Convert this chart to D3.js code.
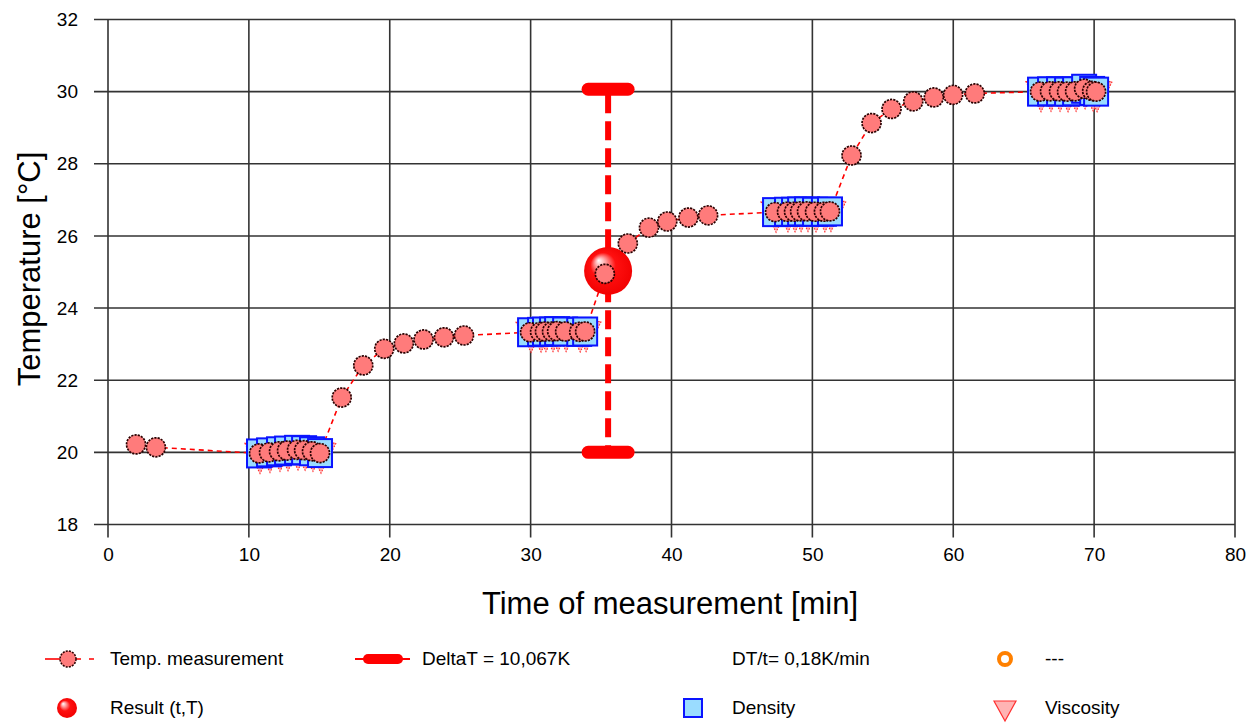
<!DOCTYPE html>
<html>
<head>
<meta charset="utf-8">
<script src="https://cdn.jsdelivr.net/npm/d3@7"></script>
<style>
  html, body { margin: 0; padding: 0; background: #ffffff; }
  svg { display: block; font-family: "Liberation Sans", Arial, sans-serif; }
</style>
</head>
<body>
<svg id="chart" width="1248" height="723"></svg>
<script>
// Temperature measurements (time in min, temperature in °C)
const tempTime = [1.99, 3.4,
  10.72, 11.43, 12.14, 12.71, 13.42, 13.92, 14.48, 15.05,
  16.59, 18.12, 19.61, 21.0, 22.4, 23.85, 25.27,
  29.96, 30.67, 31.02, 31.52, 31.88, 32.45, 33.45, 33.87,
  35.27, 36.9, 38.4, 39.7, 41.2, 42.6,
  47.35, 48.2, 48.7, 49.13, 49.62, 50.19, 50.82, 51.25,
  52.78, 54.2, 55.62, 57.16, 58.62, 59.99, 61.53,
  66.16, 66.87, 67.51, 68.08, 68.65, 69.29, 69.86, 70.14];
const tempValue = [20.22, 20.14,
  19.97, 20.0, 20.03, 20.05, 20.07, 20.06, 20.03, 19.98,
  21.52, 22.41, 22.87, 23.02, 23.13, 23.19, 23.24,
  23.33, 23.34, 23.35, 23.35, 23.36, 23.35, 23.34, 23.35,
  24.95, 25.79, 26.23, 26.40, 26.51, 26.57,
  26.66, 26.67, 26.67, 26.68, 26.68, 26.67, 26.67, 26.68,
  28.23, 29.13, 29.52, 29.73, 29.84, 29.91, 29.95,
  30.0, 30.01, 30.01, 30.0, 30.01, 30.08, 30.02, 30.0];

// Density readings taken at the stable plateaus
const densityTime = [10.72, 11.43, 12.14, 12.71, 13.42, 13.92, 14.48, 15.05,
  29.96, 30.67, 31.02, 31.52, 31.88, 32.45, 33.45, 33.87,
  47.35, 48.2, 48.7, 49.13, 49.62, 50.19, 50.82, 51.25,
  66.16, 66.87, 67.51, 68.08, 68.65, 69.29, 69.86, 70.14];
const densityValue = [19.97, 20.0, 20.03, 20.05, 20.07, 20.06, 20.03, 19.98,
  23.33, 23.34, 23.35, 23.35, 23.36, 23.35, 23.34, 23.35,
  26.66, 26.67, 26.67, 26.68, 26.68, 26.67, 26.67, 26.68,
  30.0, 30.01, 30.01, 30.0, 30.01, 30.08, 30.02, 30.0];

// Viscosity readings taken at the same plateaus
const viscosityTime = densityTime.slice();
const viscosityValue = densityValue.slice();

// Result point and temperature span
const resultTime = 35.5;
const resultValue = 25.03;
const deltaTime = 35.5;
const deltaLow = 20.0;
const deltaHigh = 30.067;

const xTicks = [0, 10, 20, 30, 40, 50, 60, 70, 80];
const yTicks = [18, 20, 22, 24, 26, 28, 30, 32];

const legendLabels = {
  temp: "Temp. measurement",
  delta: "DeltaT = 10,067K",
  rate: "DT/t= 0,18K/min",
  empty: "---",
  result: "Result (t,T)",
  density: "Density",
  viscosity: "Viscosity"
};

const svg = d3.select("#chart");
const x = d3.scaleLinear().domain([0, 80]).range([108, 1235]);
const y = d3.scaleLinear().domain([18, 32]).range([524.5, 19.5]);

const gridColor = "#333333";

// Grid lines (extend outside the plot as tick marks)
const grid = svg.append("g");
grid.selectAll("line.v").data(xTicks).join("line")
  .attr("x1", d => x(d)).attr("x2", d => x(d))
  .attr("y1", y(32)).attr("y2", y(18) + 13)
  .attr("stroke", gridColor).attr("stroke-width", 1.6);
grid.selectAll("line.h").data(yTicks).join("line")
  .attr("x1", x(0) - 14).attr("x2", x(80))
  .attr("y1", d => y(d)).attr("y2", d => y(d))
  .attr("stroke", gridColor).attr("stroke-width", 1.6);

// Axes (labels only; lines come from the grid)
const xAxis = svg.append("g")
  .attr("transform", `translate(0,${y(18)})`)
  .call(d3.axisBottom(x).tickValues(xTicks).tickSize(0).tickPadding(23));
const yAxis = svg.append("g")
  .attr("transform", `translate(${x(0)},0)`)
  .call(d3.axisLeft(y).tickValues(yTicks).tickSize(0).tickPadding(30));
[xAxis, yAxis].forEach(a => {
  a.select(".domain").remove();
  a.selectAll("text").attr("font-size", 19).attr("fill", "#000")
    .attr("font-family", "Liberation Sans, Arial, sans-serif");
});

svg.append("text")
  .attr("x", 670).attr("y", 614)
  .attr("text-anchor", "middle")
  .attr("font-size", 31).attr("fill", "#000")
  .text("Time of measurement [min]");
svg.append("text")
  .attr("transform", `translate(40,269) rotate(-90)`)
  .attr("text-anchor", "middle")
  .attr("font-size", 31).attr("fill", "#000")
  .text("Temperature [°C]");

// Connecting line of the temperature series
const tempPoints = tempTime.map((t, i) => [t, tempValue[i]]);
svg.append("path")
  .datum(tempPoints)
  .attr("d", d3.line().x(d => x(d[0])).y(d => y(d[1])))
  .attr("fill", "none").attr("stroke", "#ff0000")
  .attr("stroke-width", 1.6).attr("stroke-dasharray", "5,4");

// Viscosity triangles
const visc = viscosityTime.map((t, i) => [t, viscosityValue[i]]);
svg.append("g").selectAll("path").data(visc).join("path")
  .attr("d", d => {
    const cx = x(d[0]) + 1, cy = y(d[1]);
    return `M${cx - 15},${cy - 10}L${cx + 15},${cy - 10}L${cx},${cy + 20}Z`;
  })
  .attr("fill", "#ffb4b4").attr("stroke", "#ff3030")
  .attr("stroke-width", 1.2).attr("stroke-dasharray", "1.5,1.5");

// Density squares
const dens = densityTime.map((t, i) => [t, densityValue[i]]);
svg.append("g").selectAll("rect").data(dens).join("rect")
  .attr("x", d => x(d[0]) - 12).attr("y", d => y(d[1]) - 14)
  .attr("width", 24).attr("height", 28)
  .attr("fill", "#9adcff").attr("stroke", "#0a14ff").attr("stroke-width", 2);

// DeltaT span bar
const bar = svg.append("g");
bar.append("line")
  .attr("x1", x(deltaTime)).attr("x2", x(deltaTime))
  .attr("y1", y(deltaHigh) + 5).attr("y2", y(deltaLow) - 5)
  .attr("stroke", "#ff0000").attr("stroke-width", 6)
  .attr("stroke-dasharray", "19,8");
[deltaLow, deltaHigh].forEach(v => {
  bar.append("line")
    .attr("x1", x(deltaTime) - 20).attr("x2", x(deltaTime) + 20)
    .attr("y1", y(v)).attr("y2", y(v))
    .attr("stroke", "#ff0000").attr("stroke-width", 13)
    .attr("stroke-linecap", "round");
});

// Result ball
const defs = svg.append("defs");
const grad = defs.append("radialGradient").attr("id", "ballGrad")
  .attr("cx", "0.5").attr("cy", "0.5").attr("r", "0.55")
  .attr("fx", "0.3").attr("fy", "0.28");
grad.append("stop").attr("offset", "0").attr("stop-color", "#ffffff");
grad.append("stop").attr("offset", "0.2").attr("stop-color", "#ffa0a0");
grad.append("stop").attr("offset", "0.48").attr("stop-color", "#ff1010");
grad.append("stop").attr("offset", "1").attr("stop-color", "#f00000");
svg.append("circle")
  .attr("cx", x(resultTime)).attr("cy", y(resultValue)).attr("r", 24)
  .attr("fill", "url(#ballGrad)");

// Temperature markers
svg.append("g").selectAll("circle").data(tempPoints).join("circle")
  .attr("cx", d => x(d[0])).attr("cy", d => y(d[1])).attr("r", 9.5)
  .attr("fill", "#ff7b7b").attr("stroke", "#2a0000")
  .attr("stroke-width", 1.7).attr("stroke-dasharray", "2.2,1.1");

// Legend
const lg = svg.append("g").attr("font-size", 19).attr("fill", "#000");
const row1 = 659, row2 = 708;

lg.append("line").attr("x1", 45).attr("x2", 60).attr("y1", row1).attr("y2", row1)
  .attr("stroke", "#ff0000").attr("stroke-width", 1.6);
lg.append("line").attr("x1", 76).attr("x2", 96).attr("y1", row1).attr("y2", row1)
  .attr("stroke", "#ff0000").attr("stroke-width", 1.6).attr("stroke-dasharray", "5,8");
lg.append("circle").attr("cx", 68).attr("cy", row1).attr("r", 8)
  .attr("fill", "#ff7b7b").attr("stroke", "#2a0000")
  .attr("stroke-width", 1.5).attr("stroke-dasharray", "2,1.2");
lg.append("text").attr("x", 110).attr("y", row1 + 6).text(legendLabels.temp);

lg.append("line").attr("x1", 355).attr("x2", 410).attr("y1", row1).attr("y2", row1)
  .attr("stroke", "#ff0000").attr("stroke-width", 2);
lg.append("line").attr("x1", 368).attr("x2", 398).attr("y1", row1).attr("y2", row1)
  .attr("stroke", "#ff0000").attr("stroke-width", 10).attr("stroke-linecap", "round");
lg.append("text").attr("x", 422).attr("y", row1 + 6).text(legendLabels.delta);

lg.append("text").attr("x", 732).attr("y", row1 + 6).text(legendLabels.rate);

lg.append("circle").attr("cx", 1005).attr("cy", row1).attr("r", 6)
  .attr("fill", "none").attr("stroke", "#ff8000").attr("stroke-width", 4);
lg.append("text").attr("x", 1045).attr("y", row1 + 6).text(legendLabels.empty);

lg.append("circle").attr("cx", 67).attr("cy", row2).attr("r", 10)
  .attr("fill", "url(#ballGrad)");
lg.append("text").attr("x", 110).attr("y", row2 + 6).text(legendLabels.result);

lg.append("rect").attr("x", 684).attr("y", row2 - 9).attr("width", 18).attr("height", 18)
  .attr("fill", "#9adcff").attr("stroke", "#0a14ff").attr("stroke-width", 2);
lg.append("text").attr("x", 732).attr("y", row2 + 6).text(legendLabels.density);

lg.append("path").attr("d", `M${994},${row2 - 7}L${1016},${row2 - 7}L${1005},${row2 + 13}Z`)
  .attr("fill", "#ffb4b4").attr("stroke", "#ff3030").attr("stroke-width", 1.2);
lg.append("text").attr("x", 1045).attr("y", row2 + 6).text(legendLabels.viscosity);
</script>
</body>
</html>
